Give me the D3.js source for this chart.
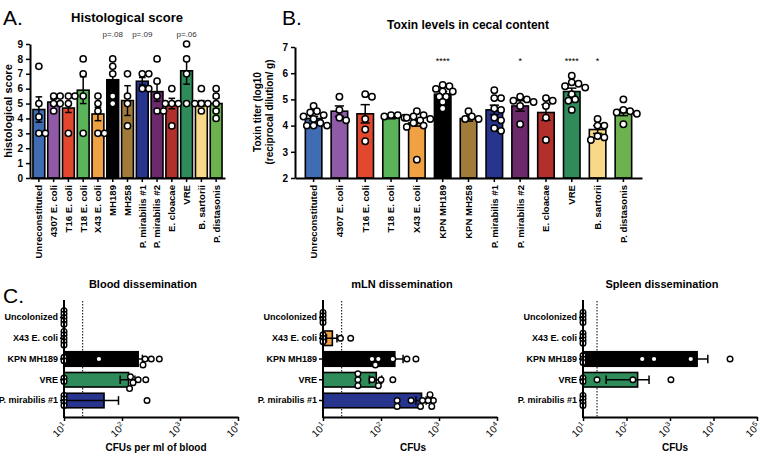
<!DOCTYPE html>
<html><head><meta charset="utf-8">
<script src="https://cdn.jsdelivr.net/npm/d3@7"></script>
<style>body{margin:0;background:#fff}svg{display:block}text{font-family:"Liberation Sans",Arial,Helvetica,sans-serif}</style>
</head><body><svg id="c" width="760" height="456"></svg>
<script>
// ---------- DATA ----------
const colors = ["#3f6cb3","#8f5aa6","#e2482e","#5bb45a","#f0a143","#000000","#a17b3a","#28358f","#6c2a6d","#b1302c","#2f8c5a","#f8d98a","#6db24e"];
const catsA = ["Unreconstituted","4307 E. coli","T16 E. coli","T18 E. coli","X43 E. coli","MH189","MH258","P. mirabilis #1","P. mirabilis #2","E. cloacae","VRE","B. sartorii","P. distasonis"];
const meansA = [4.6,5.1,4.7,5.9,4.3,6.6,5.2,6.5,5.8,5.0,7.2,5.0,5.0];
const semA = [0.85,0.2,0.3,0.9,0.45,0.5,1.0,0.25,0.65,0.35,0.9,0.2,0.35];
const ptsA = [[7.5,5,4.1,3,3],[5.5,5.5,5,4.5,5],[5.5,5.5,5,3],[8,7,5.5,3],[5.5,5,4.5,3,3],[8,7.5,7,5.5,5],[7,5,5.5,3.5],[7,7,6,6],[8,6.5,5.5,4.5,4.5],[6,5,5,5,3.5],[9,8,7,5],[6,5,5,5,4.5],[6,5.5,5,4.5,4]];
const pLabelsA = ["","","","","","p=.08","","p=.09","","","p=.06","",""];
const ticksA = [0,1,2,3,4,5,6,7,8,9];

const catsB = ["Unreconstituted","4307 E. coli","T16 E. coli","T18 E. coli","X43 E. coli","KPN MH189","KPN MH258","P. mirabilis #1","P. mirabilis #2","E. cloacae","VRE","B. sartorii","P. distasonis"];
const meansB = [4.27,4.55,4.45,4.3,4.1,5.2,4.27,4.6,4.75,4.5,5.3,3.85,4.5];
const semB = [0.08,0.2,0.35,0.04,0.12,0.1,0.1,0.18,0.2,0.3,0.13,0.15,0.12];
const ptsB = [
 [4.75,4.55,4.5,4.4,4.35,4.25,4.1,4.0,4.0,4.0],
 [5.1,4.6,4.2,4.3],
 [5.2,5.1,4.25,3.85,3.4],
 [4.4,4.4,4.35,4.3],
 [4.55,4.4,4.35,4.3,4.25,4.2,4.1,4.0,3.95,2.7],
 [5.55,5.5,5.4,5.3,5.3,5.1,5.1,4.9,4.65],
 [4.55,4.35,4.25,4.25],
 [5.35,5.05,5.05,4.65,4.6,4.3,4.2,3.9,3.8],
 [5.1,5.0,4.95,4.9,4.75,4.05],
 [5.05,4.95,4.75,4.3,3.45],
 [5.9,5.65,5.6,5.5,5.45,5.2,5.0,4.95,4.6],
 [4.25,4.0,4.0,3.6,3.45,3.55],
 [5.0,4.6,4.55,4.5,4.45,4.05]];
const sigB = ["","","","","","****","","","*","","****","*",""];
const ticksB = [2,3,4,5,6,7];

const catsC = ["Uncolonized","X43 E. coli","KPN MH189","VRE","P. mirabilis #1"];
const colorsC = ["#3f6cb3","#f0a143","#000000","#2f8c5a","#28358f"];
const limitC = 21;
const meanBlood = [10,10,190,130,49];
const loBlood = [null,null,155,93,10];
const hiBlood = [null,null,225,167,87];
const ptsBlood = [[0,0,0,0,0],[0,0,0,0,0],[0,0,40,230,250,320,440],[0,0,135,140,155,190,257],[0,0,0,0,270]];
const meanMLN = [10,14.5,173,83,500];
const loMLN = [null,11.5,110,63,400];
const hiMLN = [null,17.4,240,103,600];
const ptsMLN = [[0,0,0,0],[0,0,0,20,30],[70,80,90,160,280,400],[40,40,40,70,90,100,160],[190,190,330,480,520,650,700,750,800]];
const meanSpleen = [10,10,4200,180,10];
const loSpleen = [null,null,1000,34,null];
const hiSpleen = [null,null,7400,330,null];
const ptsSpleen = [[0,0,0,0],[0,0,0,0],[0,0,0,230,430,3000,24000],[0,0,21,140,1050],[0,0,0,0]];
const ticksC4 = [10,100,1000,10000];
const ticksC5 = [10,100,1000,10000,100000];
const tickExpC = ["1","2","3","4","5"];

// ---------- DRAW ----------
const svg = d3.select("#c");
const F = '"Liberation Sans",Arial,Helvetica,sans-serif';

function txt(x,y,s,size,weight,anchor,extra){
  const t = svg.append("text").attr("x",x).attr("y",y).text(s)
    .attr("font-size",size).attr("font-weight",weight||"normal").attr("text-anchor",anchor||"middle").attr("fill","#000");
  if(extra) extra(t);
  return t;
}

function swarm(vals, pos, center, r, step, horizontal){
  const placed=[];
  vals.map(v=>v).sort((a,b)=>b-a).forEach(v=>{
    const p = pos(v);
    for(let k=0;k<60;k++){
      const off=(k===0?0:(k%2?1:-1)*Math.ceil(k/2))*step;
      const q = center+off;
      const x = horizontal? p : q, y = horizontal? q : p;
      if(placed.every(o=>Math.hypot(o.x-x,o.y-y)>=2*r*0.92)){placed.push({x,y});break;}
    }
  });
  return placed;
}

function styleAxis(g, w){
  g.select(".domain").attr("stroke","#000").attr("stroke-width",w||2);
  g.selectAll(".tick line").attr("stroke","#000").attr("stroke-width",1.5);
  g.selectAll(".tick text").attr("font-family",F).attr("font-weight","bold").attr("fill","#000");
}

function verticalPanel(cats, means, sems, pts, cols, xRange, yDomain, yRange, ticks, pad, r){
  const x = d3.scaleBand().domain(cats).range(xRange).paddingInner(pad[0]).paddingOuter(pad[1]);
  const y = d3.scaleLinear().domain(yDomain).range(yRange);
  const g = svg.append("g");
  const bw = x.bandwidth();
  g.selectAll("rect").data(cats).join("rect")
    .attr("x",d=>x(d)).attr("width",bw)
    .attr("y",(d,i)=>y(means[i])).attr("height",(d,i)=>y(yDomain[0])-y(means[i]))
    .attr("fill",(d,i)=>cols[i]).attr("stroke","#000").attr("stroke-width",1.6);
  cats.forEach((c,i)=>{
    const cx=x(c)+bw/2, lo=y(means[i]-sems[i]), hi=y(means[i]+sems[i]);
    g.append("line").attr("x1",cx).attr("x2",cx).attr("y1",lo).attr("y2",hi).attr("stroke","#000").attr("stroke-width",1.5);
    [lo,hi].forEach(yy=>g.append("line").attr("x1",cx-bw*0.28).attr("x2",cx+bw*0.28).attr("y1",yy).attr("y2",yy).attr("stroke","#000").attr("stroke-width",1.5));
    const pl = swarm(pts[i], v=>y(v), cx, r, r*1.05, false);
    g.selectAll(null).data(pl).join("circle").attr("cx",d=>d.x).attr("cy",d=>d.y).attr("r",r)
      .attr("fill","#fff").attr("stroke","#000").attr("stroke-width",1.5);
  });
  const ya = svg.append("g").attr("transform",`translate(${xRange[0]},0)`)
    .call(d3.axisLeft(y).tickValues(ticks).tickFormat(d3.format("d")).tickSize(4).tickSizeOuter(0).tickPadding(3));
  styleAxis(ya); ya.selectAll(".tick text").attr("font-size",10);
  const xa = svg.append("g").attr("transform",`translate(0,${yRange[0]})`)
    .call(d3.axisBottom(x).tickSize(4).tickSizeOuter(0));
  styleAxis(xa);
  xa.selectAll(".tick text").attr("font-size",9.6).attr("text-anchor","end")
    .attr("transform","rotate(-90)").attr("x",-7).attr("y",0).attr("dy","0.35em");
  return {x,y};
}

// Panel A
txt(3,25,"A.",21,"normal","start");
txt(127,22,"Histological score",13,"bold");
const A = verticalPanel(catsA, meansA, semA, ptsA, colors, [30,225], [0,9], [178,44], ticksA, [0.2,0.2], 3.1);
pLabelsA.forEach((p,i)=>{ if(p) txt(A.x(catsA[i])+A.x.bandwidth()/2, 37, p, 8, "normal","middle",t=>t.attr("fill","#333")); });
txt(0,0,"histological score",11,"bold","middle",t=>t.attr("transform","translate(12,111) rotate(-90)"));

// Panel B
txt(282,25,"B.",21,"normal","start");
txt(468,29,"Toxin levels in cecal content",12,"bold");
const B = verticalPanel(catsB, meansB, semB, ptsB, colors, [295,642], [2,7], [178,47], ticksB, [0.36,0.4], 3.2);
sigB.forEach((s,i)=>{ if(s) txt(B.x(catsB[i])+B.x.bandwidth()/2, 64, s, 9, "normal"); });
txt(0,0,"Toxin titer (log10",10,"bold","middle",t=>t.attr("transform","translate(261,112) rotate(-90)"));
txt(0,0,"(reciprocal dilution/ g)",10,"bold","middle",t=>t.attr("transform","translate(273,112) rotate(-90)"));

// Panel C
txt(3,303,"C.",21,"normal","start");
function hPanel(title, xlab, xlabX, means, los, his, pts, xRange, domMax, ticks){
  const x = d3.scaleLog().domain([10,domMax]).range(xRange);
  const y = d3.scaleBand().domain(catsC).range([304,414]).padding(0.3);
  const g = svg.append("g");
  const bh = y.bandwidth();
  g.append("line").attr("x1",x(limitC)).attr("x2",x(limitC)).attr("y1",301).attr("y2",417)
    .attr("stroke","#000").attr("stroke-width",1).attr("stroke-dasharray","1.5,1.5");
  g.selectAll("rect").data(catsC).join("rect")
    .attr("x",x(10)).attr("y",d=>y(d)).attr("height",bh)
    .attr("width",(d,i)=>x(means[i])-x(10))
    .attr("fill",(d,i)=>colorsC[i]).attr("stroke","#000").attr("stroke-width",(d,i)=>means[i]>10?1.6:0);
  catsC.forEach((c,i)=>{
    const cy=y(c)+bh/2;
    if(los[i]!=null){
      const a=x(los[i]), b=x(his[i]);
      g.append("line").attr("x1",a).attr("x2",b).attr("y1",cy).attr("y2",cy).attr("stroke","#000").attr("stroke-width",1.5);
      [a,b].forEach(xx=>g.append("line").attr("x1",xx).attr("x2",xx).attr("y1",cy-bh*0.3).attr("y2",cy+bh*0.3).attr("stroke","#000").attr("stroke-width",1.5));
    }
    const zeros = pts[i].filter(v=>v<=0), pos = pts[i].filter(v=>v>0);
    const r=2.8;
    const zp = zeros.map((v,k)=>({x:x(10), y:cy+(k-(zeros.length-1)/2)*3.4}));
    const pp = swarm(pos, v=>x(v), cy, r, r*1.05, true);
    g.selectAll(null).data(zp.concat(pp)).join("circle").attr("cx",d=>d.x).attr("cy",d=>d.y).attr("r",r)
      .attr("fill","#fff").attr("stroke","#000").attr("stroke-width",1.4);
  });
  const ya = svg.append("g").attr("transform",`translate(${xRange[0]},0)`)
    .call(d3.axisLeft(y).tickSize(4).tickSizeOuter(0).tickPadding(2));
  styleAxis(ya); ya.select(".domain").remove();
  ya.selectAll(".tick text").attr("font-size",9);
  svg.append("line").attr("x1",xRange[0]).attr("x2",xRange[0]).attr("y1",300).attr("y2",418).attr("stroke","#000").attr("stroke-width",2);
  const xa = svg.append("g").attr("transform","translate(0,417)")
    .call(d3.axisBottom(x).tickValues(ticks).tickFormat("").tickSize(4).tickSizeOuter(0));
  styleAxis(xa);
  xa.selectAll(".tick").each(function(d,i){
    const t = d3.select(this).append("text").attr("fill","#000").attr("font-size",10)
      .attr("text-anchor","end").attr("transform","translate(3,10) rotate(-45)");
    t.append("tspan").text("10");
    t.append("tspan").attr("font-size",7).attr("dy",-4).text(tickExpC[i]);
  });
  txt((xRange[0]+xRange[1])/2 - 8, 288, title, 11, "bold");
  txt(xlabX, 451, xlab, 10, "bold");
}
hPanel("Blood dissemination","CFUs per ml of blood",156, meanBlood, loBlood, hiBlood, ptsBlood, [64,238], 1e4, ticksC4);
hPanel("mLN dissemination","CFUs",413, meanMLN, loMLN, hiMLN, ptsMLN, [323,497], 1e4, ticksC4);
hPanel("Spleen dissemination","CFUs",675, meanSpleen, loSpleen, hiSpleen, ptsSpleen, [583,757], 1e5, ticksC5);
</script></body></html>
